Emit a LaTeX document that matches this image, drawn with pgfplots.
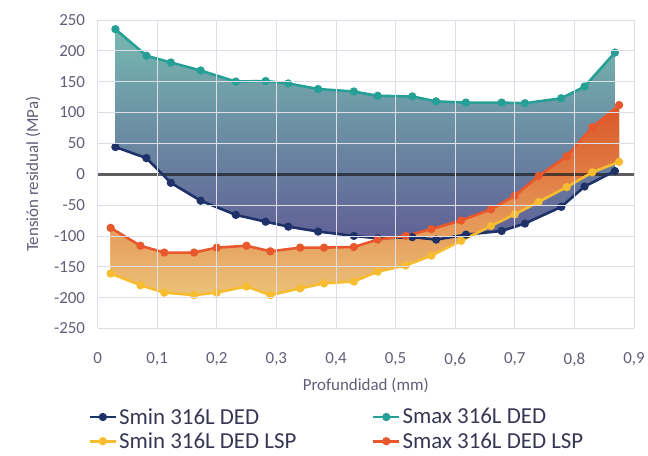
\documentclass[border=0pt]{standalone}
\usepackage{fontspec}
\setmainfont{Carlito}
\usepackage{pgfplots}
\usepackage{pgfplotstable}
\pgfplotsset{compat=1.18}
\usepgfplotslibrary{fillbetween}
\definecolor{cnavy}{RGB}{30,50,105}
\definecolor{cteal}{RGB}{38,160,150}
\definecolor{cyel}{RGB}{248,188,48}
\definecolor{cora}{RGB}{233,88,45}
\definecolor{ctick}{RGB}{95,95,120}
\definecolor{cleg}{RGB}{55,55,85}
\definecolor{cgrid}{RGB}{222,222,232}
\definecolor{czero}{RGB}{30,30,35}
\definecolor{gtop}{RGB}{118,184,176}
\definecolor{gbot}{RGB}{96,96,150}
\definecolor{otop}{RGB}{235,92,42}
\definecolor{obot}{RGB}{252,208,128}

\pgfplotstableread{
x y
0.030 44
0.082 26
0.123 -14
0.173 -43
0.232 -66
0.282 -77
0.320 -85
0.370 -93
0.430 -100
0.470 -104
0.528 -102
0.568 -106
0.618 -98
0.678 -92
0.717 -80
0.778 -53
0.817 -20
0.868 5
}\sminded
\pgfplotstableread{
x y
0.030 235
0.082 192
0.123 181
0.173 168
0.232 150
0.282 151
0.320 147
0.370 138
0.430 134
0.470 127
0.528 126
0.568 118
0.618 116
0.678 116
0.717 115
0.778 123
0.817 142
0.868 197
}\smaxded
\pgfplotstableread{
x y
0.022 -161
0.072 -180
0.112 -192
0.162 -196
0.200 -192
0.250 -182
0.290 -196
0.340 -185
0.380 -177
0.430 -174
0.470 -158
0.517 -148
0.560 -132
0.610 -108
0.660 -84
0.700 -65
0.740 -45
0.787 -21
0.830 3
0.875 20
}\sminlsp
\pgfplotstableread{
x y
0.022 -87
0.072 -116
0.112 -127
0.162 -127
0.200 -119
0.250 -116
0.290 -125
0.340 -119
0.380 -119
0.430 -118
0.470 -106
0.517 -100
0.560 -89
0.610 -75
0.660 -57
0.700 -35
0.740 -3
0.787 29
0.830 76
0.875 112
}\smaxlsp

\begin{document}
\begin{tikzpicture}
\begin{axis}[
  at={(0,0)}, anchor=south west,
  scale only axis, width=539pt, height=310pt,
  xmin=0, xmax=0.9, ymin=-250, ymax=250,
  xtick={0,0.1,0.2,0.3,0.4,0.5,0.6,0.7,0.8,0.9},
  xticklabels={0,{0,1},{0,2},{0,3},{0,4},{0,5},{0,6},{0,7},{0,8},{0,9}},
  ytick={-250,-200,-150,-100,-50,50,100,150,200,250},
  yticklabels={-250,-200,-150,-100,-50,50,100,150,200,250},
  extra y ticks={0},
  extra y tick labels={0},
  extra y tick style={grid=none},
  grid=major,
  major grid style={draw=cgrid, line width=0.7pt},
  axis line style={draw=none},
  tick style={draw=none},
  axis on top,
  ticklabel style={font=\fontsize{17}{20}\selectfont, text=ctick},
  xticklabel style={yshift=-21pt},
  yticklabel style={xshift=-9pt},
  xlabel={Profundidad (mm)},
  ylabel={Tensión residual (MPa)},
  label style={font=\fontsize{17}{20}\selectfont, text=ctick},
  xlabel style={at={(axis description cs:0.5,-0.186)}, anchor=center},
  ylabel style={at={(axis description cs:-0.12,0.5)}, anchor=center},
  legend columns=2,
  legend cell align=left,
  legend style={at={(axis description cs:-0.017,-0.252)}, anchor=north west,
    draw=none, fill=none, font=\fontsize{23}{25}\selectfont, text=cleg,
    inner sep=0pt, row sep=3pt,
    /tikz/every even column/.append style={column sep=74pt}},
  legend image code/.code={\draw[mark repeat=2,mark phase=2] plot coordinates {(0pt,0pt)(13pt,0pt)(26pt,0pt)};},
  every axis plot/.append style={line width=2.6pt, mark=*, mark size=2.8pt},
]
\addplot[draw=none, mark=none, name path=A, forget plot] table {\smaxded};
\addplot[draw=none, mark=none, name path=B, forget plot] table {\sminded};
\addplot[draw=none, mark=none, name path=C, forget plot] table {\smaxlsp};
\addplot[draw=none, mark=none, name path=D, forget plot] table {\sminlsp};
\addplot[top color=gtop, bottom color=gbot, draw=none, mark=none, forget plot] fill between[of=A and B];
\addplot[top color=otop, bottom color=obot, draw=none, mark=none, fill opacity=0.93, forget plot] fill between[of=C and D];
\addplot[czero, line width=3pt, mark=none, opacity=0.72, forget plot] coordinates {(0,0) (0.9,0)};
\addplot[cnavy, mark options={fill=cnavy}] table {\sminded};
\addlegendentry{Smin 316L DED}
\addplot[cteal, mark options={fill=cteal}] table {\smaxded};
\addlegendentry{Smax 316L DED}
\addplot[cyel, mark options={fill=cyel}] table {\sminlsp};
\addlegendentry{Smin 316L DED LSP}
\addplot[cora, mark options={fill=cora}] table {\smaxlsp};
\addlegendentry{Smax 316L DED LSP}
\end{axis}
\path (-98pt,-128pt) rectangle (550pt,330pt);
\end{tikzpicture}
\end{document}
